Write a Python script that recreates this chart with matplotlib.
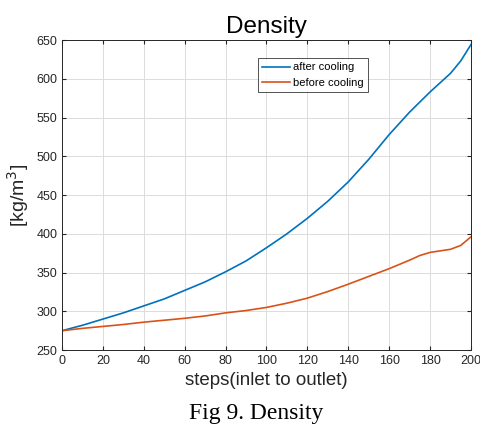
import matplotlib.pyplot as plt
import numpy as np

# dane
steps_after = [0, 10, 20, 30, 40, 50, 60, 70, 80, 90, 100, 110, 120, 130, 140,
               150, 160, 170, 180, 185, 190, 195, 200]
after_cooling = [275, 282, 290, 298, 307, 316, 327, 338, 351, 365, 382, 400,
                 420, 442, 467, 496, 528, 557, 583, 595, 607, 623, 644]
steps_before = [0, 10, 20, 30, 40, 50, 60, 70, 80, 90, 100, 110, 120, 130,
                140, 150, 160, 170, 175, 180, 185, 190, 195, 200]
before_cooling = [275, 278, 280.5, 283, 286, 288.5, 291, 294, 298, 301, 305,
                  310.5, 317, 325.5, 335, 345, 355, 366, 372, 376, 378, 380, 385, 396]

plt.rcParams['font.family'] = ['Liberation Sans', 'DejaVu Sans']

fig = plt.figure(figsize=(4.81, 4.29), dpi=100)
ax = fig.add_axes([0.129, 0.184, 0.850, 0.7226])

ax.plot(steps_after, after_cooling, color='#0072BD', lw=1.2, label='after cooling')
ax.plot(steps_before, before_cooling, color='#D95319', lw=1.2, label='before cooling')

ax.set_xlim(0, 200)
ax.set_ylim(250, 650)
ax.set_xticks(np.arange(0, 201, 20))
ax.set_yticks(np.arange(250, 651, 50))
ax.grid(True, color='#dcdcdc', lw=0.7)
ax.tick_params(direction='in', labelsize=9, colors='#262626', length=3,
               top=True, right=True, labeltop=False, labelright=False)
for s in ax.spines.values():
    s.set_color('#262626')
    s.set_linewidth(0.7)

ax.set_title('Density', fontsize=17.5, pad=5)
ax.set_xlabel('steps(inlet to outlet)', fontsize=13.5, color='#262626', labelpad=4)
ax.set_ylabel('[kg/m$^3$]', fontsize=14, color='#262626', labelpad=4)

leg = ax.legend(loc='upper left', bbox_to_anchor=(0.479, 0.942), fontsize=8,
                frameon=True, fancybox=False, edgecolor='#262626',
                borderaxespad=0, handlelength=2.5, handletextpad=0.25,
                borderpad=0.4, labelspacing=0.5)
leg.get_frame().set_linewidth(0.7)

# podpis pod wykresem
fig.text(0.532, 0.012, 'Fig 9. Density', ha='center', va='bottom',
         fontsize=17, family='Liberation Serif')

plt.savefig('out.png', dpi=100)
